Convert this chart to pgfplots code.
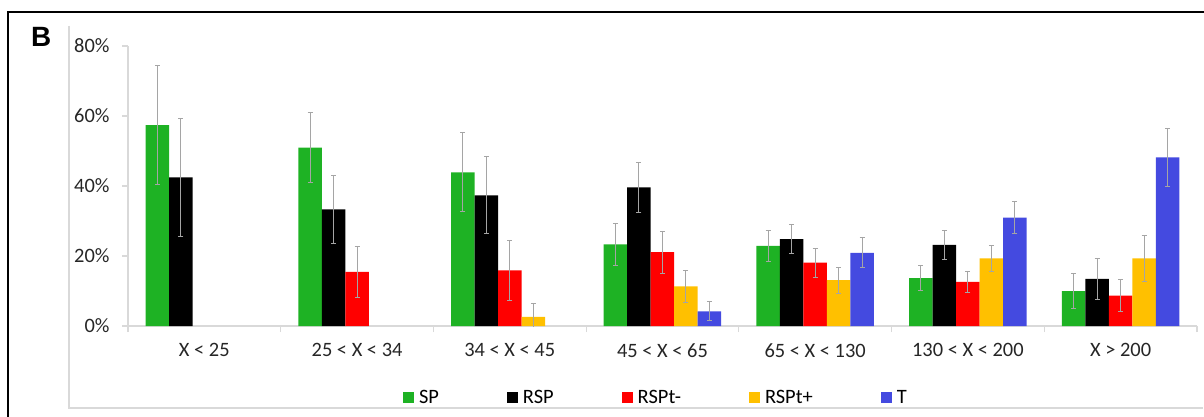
\documentclass[border=0pt]{standalone}
\usepackage{pgfplots}
\pgfplotsset{compat=1.18}
\usepackage{pgfplotstable}
\usepackage{fontspec}
\setmainfont{Carlito}
\newfontfamily\arialfont{Liberation Sans}
\definecolor{cgreen}{RGB}{30,178,36}
\definecolor{cred}{RGB}{255,0,0}
\definecolor{corange}{RGB}{255,192,0}
\definecolor{cblue}{RGB}{68,74,224}
\definecolor{lgray}{RGB}{217,217,217}
\definecolor{egray}{RGB}{165,165,165}
\pgfplotstableread{
x sp spe rsp rspe rm rme rp rpe t te
0 57.4 17.0 42.5 16.9 nan nan nan nan nan nan
1 51.0 10.0 33.3 9.6 15.5 7.3 nan nan nan nan
2 43.9 11.3 37.3 11.0 15.9 8.5 2.6 3.8 nan nan
3 23.3 5.9 39.6 7.2 21.1 6.0 11.3 4.6 4.2 2.7
4 22.9 4.4 24.8 4.2 18.1 4.1 13.1 3.7 20.9 4.3
5 13.7 3.5 23.2 4.1 12.6 3.1 19.3 3.7 31.0 4.5
6 10.0 5.1 13.5 5.9 8.7 4.6 19.3 6.7 48.2 8.3
}\data
\begin{document}
\begin{tikzpicture}
\useasboundingbox (0bp,0bp) rectangle (1204bp,417bp);
\draw[lgray, line width=1.5bp] (69bp,391bp) -- (69bp,9bp) -- (1203bp,9bp);
\draw[black, line width=2.2bp] (8bp,-5bp) -- (8bp,405bp) -- (1210bp,405bp);
\node[anchor=base west, inner sep=0pt, font=\arialfont\bfseries\fontsize{28}{32}\selectfont] at (31bp,370bp) {B};
\begin{axis}[
  at={(128bp,91bp)}, anchor=south west,
  width=1069bp, height=280bp, scale only axis,
  xmin=-0.5, xmax=6.5, ymin=0, ymax=80,
  ybar=0pt, bar width=23.5bp,
  axis x line*=bottom, axis y line*=left,
  axis line style={draw=lgray, line width=1.2bp},
  tick align=outside, major tick length=6bp,
  tick style={draw=lgray, line width=1.2bp},
  xtick={-0.5,0.5,1.5,2.5,3.5,4.5,5.5,6.5},
  x tick label as interval,
  xticklabels={X < 25, 25 < X < 34, 34 < X < 45, 45 < X < 65, 65 < X < 130, 130 < X < 200, X > 200},
  ytick={0,20,40,60,80},
  yticklabels={0\%,20\%,40\%,60\%,80\%},
  tick label style={font=\fontsize{20.5}{24}\selectfont, text=black!85},
  yticklabel style={xshift=-9bp},
  xticklabel style={yshift=-8bp},
  legend columns=5,
  legend style={at={(0.4953,-0.257)}, anchor=center, draw=none, fill=none,
    font=\fontsize{20.5}{24}\selectfont,
    nodes={inner xsep=5bp},
    /tikz/every even column/.append style={column sep=63bp}},
  legend image code/.code={\fill[#1,draw=none] (0bp,-5.5bp) rectangle (11bp,5.5bp);},
  error bars/y dir=both, error bars/y explicit,
  error bars/error bar style={egray, line width=1bp},
  error bars/error mark options={egray, line width=1bp, mark size=2.5bp, rotate=90},
]
\addplot[fill=cgreen, draw=none] table[x=x, y=sp, y error=spe] {\data};
\addplot[fill=black, draw=none] table[x=x, y=rsp, y error=rspe] {\data};
\addplot[fill=cred, draw=none] table[x=x, y=rm, y error=rme] {\data};
\addplot[fill=corange, draw=none] table[x=x, y=rp, y error=rpe] {\data};
\addplot[fill=cblue, draw=none] table[x=x, y=t, y error=te] {\data};
\legend{SP, RSP, RSPt-, RSPt+, T}
\end{axis}
\end{tikzpicture}
\end{document}
